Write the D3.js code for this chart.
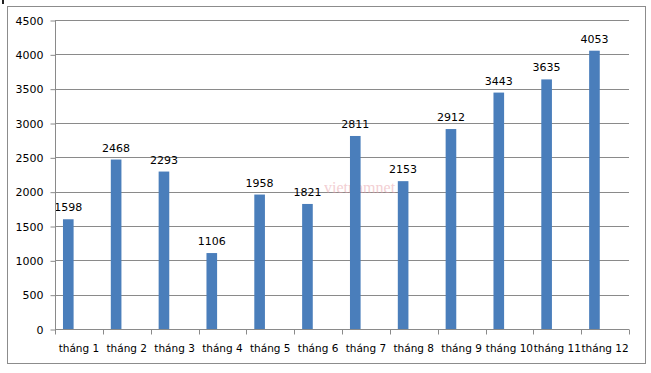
<!DOCTYPE html>
<html><head><meta charset="utf-8">
<script src="https://cdn.jsdelivr.net/npm/d3@7"></script>
<style>html,body{margin:0;padding:0;background:#fff;}svg{display:block;}</style>
</head><body>
<script>
const categories = ["tháng 1","tháng 2","tháng 3","tháng 4","tháng 5","tháng 6","tháng 7","tháng 8","tháng 9","tháng 10","tháng 11","tháng 12"];
const values = [1598,2468,2293,1106,1958,1821,2811,2153,2912,3443,3635,4053];
const yTicks = [0,500,1000,1500,2000,2500,3000,3500,4000,4500];
const seriesSlots = ["s1","s2","s3"];

(function(){
const W = 651, H = 373;
const svg = d3.select("body").append("svg").attr("width", W).attr("height", H);
const font = "Tahoma, 'DejaVu Sans', sans-serif";

svg.append("rect").attr("x",2).attr("y",0).attr("width",2).attr("height",4).attr("fill","#222");
svg.append("rect").attr("x",7.5).attr("y",6.5).attr("width",638).attr("height",357)
  .attr("fill","#fff").attr("stroke","#8c8c8c").attr("stroke-width",1);

const pL = 55, pR = 629, pT = 20, pB = 329;
const x = d3.scaleBand().domain(categories).range([pL, pR]).padding(0);
const x1 = d3.scaleBand().domain(seriesSlots).range([0, x.bandwidth()]).paddingInner(0).paddingOuter(0.75);
const y = d3.scaleLinear().domain([0,4500]).range([pB, pT]);

svg.append("g").selectAll("line").data(yTicks.slice(1)).join("line")
  .attr("x1", pL).attr("x2", pR)
  .attr("y1", d => Math.round(y(d))+0.5).attr("y2", d => Math.round(y(d))+0.5)
  .attr("stroke","#8a8a8a").attr("stroke-width",1);

svg.append("text").attr("x", 324).attr("y", 193).attr("text-anchor","start")
  .attr("font-family","'Liberation Serif', serif").attr("font-size",16)
  .attr("fill","#e8a0a8").attr("opacity",0.5).text("vietnamnet");

svg.append("g").selectAll("rect").data(values).join("rect")
  .attr("x", (d,i) => x(categories[i]) + x1("s1"))
  .attr("width", x1.bandwidth())
  .attr("y", d => y(d))
  .attr("height", d => y(0) - y(d))
  .attr("fill","#4a7ebb");

svg.append("g").selectAll("text").data(values).join("text")
  .attr("x", (d,i) => x(categories[i]) + x1("s1") + x1.bandwidth()/2)
  .attr("y", d => y(d) - 8)
  .attr("text-anchor","middle")
  .attr("font-family", font).attr("font-size", 11).attr("fill","#000")
  .text(d => d);

const yAxis = d3.axisLeft(y).tickValues(yTicks).tickSize(5).tickPadding(7).tickFormat(d3.format("d"));
const gy = svg.append("g").attr("transform",`translate(${pL+0.5},0.5)`).call(yAxis);
gy.select(".domain").attr("stroke","#8a8a8a").attr("d", `M0,${pT}V${pB}`);
gy.selectAll(".tick line").attr("stroke","#8a8a8a");
gy.selectAll(".tick text").attr("font-family", font).attr("font-size", 11).attr("fill","#000");

const gx = svg.append("g").attr("transform",`translate(0,${pB+0.5})`);
gx.append("line").attr("x1", pL).attr("x2", pR).attr("stroke","#8a8a8a");
const bounds = categories.map(c => x(c)).concat([pR]);
gx.selectAll("line.tk").data(bounds).join("line").attr("class","tk")
  .attr("x1", d => Math.round(d)+0.5).attr("x2", d => Math.round(d)+0.5)
  .attr("y1", 0).attr("y2", 5).attr("stroke","#8a8a8a");
gx.selectAll("text").data(categories).join("text")
  .attr("x", d => x(d) + x.bandwidth()/2)
  .attr("y", 22)
  .attr("text-anchor","middle")
  .attr("font-family", font).attr("font-size", 10.5).attr("fill","#000")
  .text(d => d);
})();
</script>
</body></html>
